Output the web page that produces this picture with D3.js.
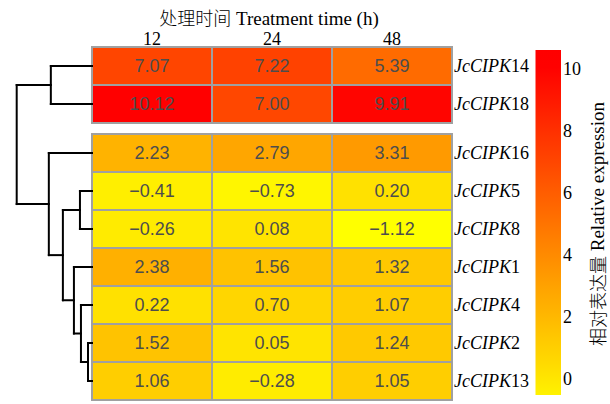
<!DOCTYPE html>
<html>
<head>
<meta charset="utf-8">
<script src="https://cdn.jsdelivr.net/npm/d3@7"></script>
<style>
  html, body { margin: 0; padding: 0; background: #fff; }
  svg { display: block; }
</style>
</head>
<body>
<svg id="chart" width="610" height="404"></svg>
<script>
// ---------------- data ----------------
const timepoints = ["12", "24", "48"];
const genePrefix = "JcCIPK";
const genes = ["14", "18", "16", "5", "8", "1", "4", "2", "13"];
const clusters = [1, 1, 2, 2, 2, 2, 2, 2, 2];
const values = [
  [7.07, 7.22, 5.39],
  [10.12, 7.00, 9.91],
  [2.23, 2.79, 3.31],
  [-0.41, -0.73, 0.20],
  [-0.26, 0.08, -1.12],
  [2.38, 1.56, 1.32],
  [0.22, 0.70, 1.07],
  [1.52, 0.05, 1.24],
  [1.06, -0.28, 1.05]
];
// hierarchical clustering tree (merge heights)
const dendro = {
  h: 7.5, children: [
    { h: 4.1, children: [{ leaf: "14" }, { leaf: "18" }] },
    { h: 4.3, children: [
      { leaf: "16" },
      { h: 2.9, children: [
        { h: 1.2, children: [{ leaf: "5" }, { leaf: "8" }] },
        { h: 1.8, children: [
          { leaf: "1" },
          { h: 1.1, children: [
            { leaf: "4" },
            { h: 0.4, children: [{ leaf: "2" }, { leaf: "13" }] }
          ]}
        ]}
      ]}
    ]}
  ]
};
const legendTicks = [0, 2, 4, 6, 8, 10];
const legendDomain = [-0.53, 10.63];
const titleTopCn = "处理时间";
const titleTopEn = " Treatment time (h)";
const titleLegendCn = "相对表达量";
const titleLegendEn = " Relative expression";

// ---------------- layout ----------------
const svg = d3.select("#chart");
const heatLeft = 92, heatRight = 452;
const top0 = 47, rowH = 38, gap = 11;
const serif = "'Liberation Serif','Times New Roman',serif";
const cjk = "'Noto Sans CJK SC',sans-serif";
const sans = "'Liberation Sans',Arial,sans-serif";

const x = d3.scaleBand().domain(timepoints).range([heatLeft, heatRight]);
const rowBand = d3.scaleBand().domain(genes).range([top0, top0 + rowH * genes.length]);
const yTop = g => rowBand(g) + (clusters[genes.indexOf(g)] > 1 ? gap : 0);
const yMid = g => yTop(g) + rowBand.bandwidth() / 2;

const allVals = values.flat();
const color = d3.scaleLinear()
  .domain([d3.min(allVals), d3.max(allVals)])
  .range(["#ffff00", "#ff0000"])
  .interpolate(d3.interpolateRgb)
  .clamp(true);

// ---------------- heatmap ----------------
const cells = [];
genes.forEach((g, i) => timepoints.forEach((t, j) => cells.push({ g, t, v: values[i][j] })));

const cg = svg.append("g");
cg.selectAll("rect").data(cells).join("rect")
  .attr("x", d => x(d.t))
  .attr("y", d => yTop(d.g))
  .attr("width", x.bandwidth())
  .attr("height", rowBand.bandwidth())
  .attr("fill", d => color(d.v))
  .attr("stroke", "#a0a0a0")
  .attr("stroke-width", 2);

cg.selectAll("text").data(cells).join("text")
  .attr("x", d => x(d.t) + x.bandwidth() / 2)
  .attr("y", d => yMid(d.g))
  .attr("text-anchor", "middle")
  .attr("dominant-baseline", "central")
  .attr("font-family", sans)
  .attr("font-size", 18)
  .attr("fill", "#4d4d4d")
  .text(d => d3.format(".2f")(d.v).replace("-", "\u2212"));

// column labels
svg.append("g").selectAll("text").data(timepoints).join("text")
  .attr("x", d => x(d) + x.bandwidth() / 2)
  .attr("y", 45)
  .attr("text-anchor", "middle")
  .attr("font-family", serif)
  .attr("font-size", 18)
  .attr("fill", "#000")
  .text(d => d);

const tt = svg.append("text")
  .attr("x", 269)
  .attr("y", 25)
  .attr("text-anchor", "middle")
  .attr("font-family", serif)
  .attr("font-size", 19)
  .attr("fill", "#000");
tt.append("tspan").attr("font-family", cjk).attr("font-weight", 300).attr("font-size", 18).text(titleTopCn);
tt.append("tspan").text(titleTopEn);

// row labels
const rl = svg.append("g").selectAll("text").data(genes).join("text")
  .attr("x", heatRight + 2)
  .attr("y", d => yMid(d))
  .attr("dominant-baseline", "central")
  .attr("font-family", serif)
  .attr("font-size", 18)
  .attr("fill", "#000");
rl.append("tspan").attr("font-style", "italic").text(genePrefix);
rl.append("tspan").text(d => d);

// ---------------- dendrogram ----------------
const root = d3.hierarchy(dendro);
const xd = d3.scaleLinear().domain([0, dendro.h]).range([heatLeft, 16.7]);
root.eachAfter(n => {
  if (n.data.leaf) { n.py = yMid(n.data.leaf); n.px = xd(0); }
  else {
    n.py = d3.mean(n.children, c => c.py);
    n.px = xd(n.data.h);
  }
});
const segs = [];
root.each(n => {
  if (n.children) {
    segs.push([n.px, d3.min(n.children, c => c.py), n.px, d3.max(n.children, c => c.py)]);
    n.children.forEach(c => segs.push([n.px, c.py, c.px, c.py]));
  }
});
svg.append("g").selectAll("line").data(segs).join("line")
  .attr("x1", d => d[0]).attr("y1", d => d[1])
  .attr("x2", d => d[2]).attr("y2", d => d[3])
  .attr("stroke", "#000")
  .attr("stroke-width", 2)
  .attr("stroke-linecap", "square");

// ---------------- colour legend ----------------
const ly = d3.scaleLinear().domain(legendDomain).range([395, 50]);
const defs = svg.append("defs");
const grad = defs.append("linearGradient").attr("id", "lg")
  .attr("x1", 0).attr("y1", 1).attr("x2", 0).attr("y2", 0);
d3.range(0, 1.0001, 0.05).forEach(f => {
  const v = legendDomain[0] + f * (legendDomain[1] - legendDomain[0]);
  grad.append("stop").attr("offset", f).attr("stop-color", color(v));
});
svg.append("rect")
  .attr("x", 535.5).attr("y", ly(legendDomain[1]))
  .attr("width", 25.5).attr("height", ly(legendDomain[0]) - ly(legendDomain[1]))
  .attr("fill", "url(#lg)");

svg.append("g").selectAll("text").data(legendTicks).join("text")
  .attr("x", 563)
  .attr("y", d => ly(d))
  .attr("dominant-baseline", "central")
  .attr("font-family", serif)
  .attr("font-size", 18)
  .attr("fill", "#000")
  .text(d => d);

const lt = svg.append("text")
  .attr("transform", "translate(597,224) rotate(-90)")
  .attr("text-anchor", "middle")
  .attr("dominant-baseline", "central")
  .attr("font-family", serif)
  .attr("font-size", 19)
  .attr("fill", "#000");
lt.append("tspan").attr("font-family", cjk).attr("font-weight", 300).attr("font-size", 18).text(titleLegendCn);
lt.append("tspan").text(titleLegendEn);
</script>
</body>
</html>
